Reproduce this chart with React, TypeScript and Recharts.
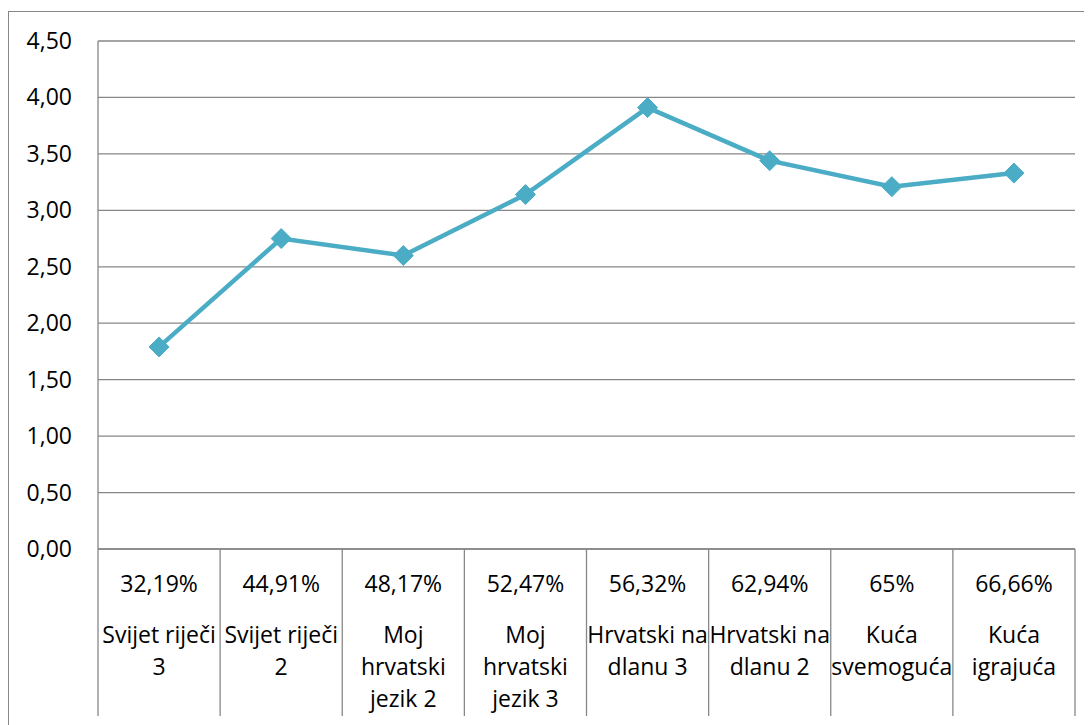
import React from "react";
import { LineChart, Line, XAxis, YAxis, CartesianGrid } from "recharts";

const categories = [
  "Svijet riječi 3",
  "Svijet riječi 2",
  "Moj hrvatski jezik 2",
  "Moj hrvatski jezik 3",
  "Hrvatski na dlanu 3",
  "Hrvatski na dlanu 2",
  "Kuća svemoguća",
  "Kuća igrajuća",
];
const labelLines = [
  ["Svijet riječi", "3"],
  ["Svijet riječi", "2"],
  ["Moj", "hrvatski", "jezik 2"],
  ["Moj", "hrvatski", "jezik 3"],
  ["Hrvatski na", "dlanu 3"],
  ["Hrvatski na", "dlanu 2"],
  ["Kuća", "svemoguća"],
  ["Kuća", "igrajuća"],
];
const percents = ["32,19%", "44,91%", "48,17%", "52,47%", "56,32%", "62,94%", "65%", "66,66%"];
const values = [1.79, 2.75, 2.6, 3.14, 3.91, 3.44, 3.21, 3.33];
const yTicks = [0, 0.5, 1, 1.5, 2, 2.5, 3, 3.5, 4, 4.5];

const data = categories.map((name, i) => ({ name, value: values[i] }));

const GRID = "#878787";
const LINE = "#4BACC6";
const FONT = "'Open Sans', sans-serif";

const CHART_W = 1080;
const CHART_H = 710;
const MARGIN = { top: 29, right: 14, bottom: 6, left: 0 };
const Y_W = 89;
const X_H = 167;
const PLOT_W = CHART_W - MARGIN.left - MARGIN.right - Y_W;
const BW = PLOT_W / categories.length;

const CatTick = (props: any) => {
  const { x, y, index } = props;
  const left = x - BW / 2;
  const right = x + BW / 2;
  return (
    <g>
      <line x1={left} y1={y} x2={left} y2={y + X_H} stroke={GRID} strokeWidth={1.3} />
      {index === categories.length - 1 && (
        <line x1={right} y1={y} x2={right} y2={y + X_H} stroke={GRID} strokeWidth={1.3} />
      )}
      <text x={x} y={y + 43} textAnchor="middle" fontFamily={FONT} fontSize={23} fill="#000">
        {percents[index]}
      </text>
      {labelLines[index].map((l, i) => (
        <text key={i} x={x} y={y + 94 + i * 31.8} textAnchor="middle" fontFamily={FONT} fontSize={23} fill="#000">
          {l}
        </text>
      ))}
    </g>
  );
};

const YTick = (props: any) => {
  const { x, y, payload } = props;
  return (
    <text x={x} y={y + 8} textAnchor="end" fontFamily={FONT} fontSize={23} fill="#000">
      {Number(payload.value).toFixed(2).replace(".", ",")}
    </text>
  );
};

const Diamond = (props: any) => {
  const { cx, cy } = props;
  if (cx == null || cy == null) return null;
  const r = 10;
  return (
    <polygon
      points={`${cx},${cy - r} ${cx + r},${cy} ${cx},${cy + r} ${cx - r},${cy}`}
      fill={LINE}
      stroke={LINE}
      strokeWidth={1}
    />
  );
};

export default function App() {
  return (
    <div>
      <style>{`html,body{overflow:hidden}`}</style>
      <div
        style={{
          marginTop: 3,
          width: 1090,
          height: 720,
          border: `1px solid ${GRID}`,
          boxSizing: "border-box",
          background: "#fff",
        }}
      >
        <LineChart width={CHART_W} height={CHART_H} data={data} margin={MARGIN}>
          <CartesianGrid vertical={false} stroke={GRID} strokeWidth={1.3} />
          <XAxis
            dataKey="name"
            scale="band"
            interval={0}
            height={X_H}
            tickLine={false}
            tickSize={0}
            tickMargin={0}
            axisLine={{ stroke: GRID, strokeWidth: 1.3 }}
            tick={<CatTick />}
          />
          <YAxis
            width={Y_W}
            domain={[0, 4.5]}
            ticks={yTicks}
            tickLine={false}
            tickSize={0}
            tickMargin={26}
            axisLine={{ stroke: GRID, strokeWidth: 1.3 }}
            tick={<YTick />}
          />
          <Line
            type="linear"
            dataKey="value"
            stroke={LINE}
            strokeWidth={4.5}
            dot={<Diamond />}
            activeDot={false}
            isAnimationActive={false}
          />
        </LineChart>
      </div>
    </div>
  );
}
